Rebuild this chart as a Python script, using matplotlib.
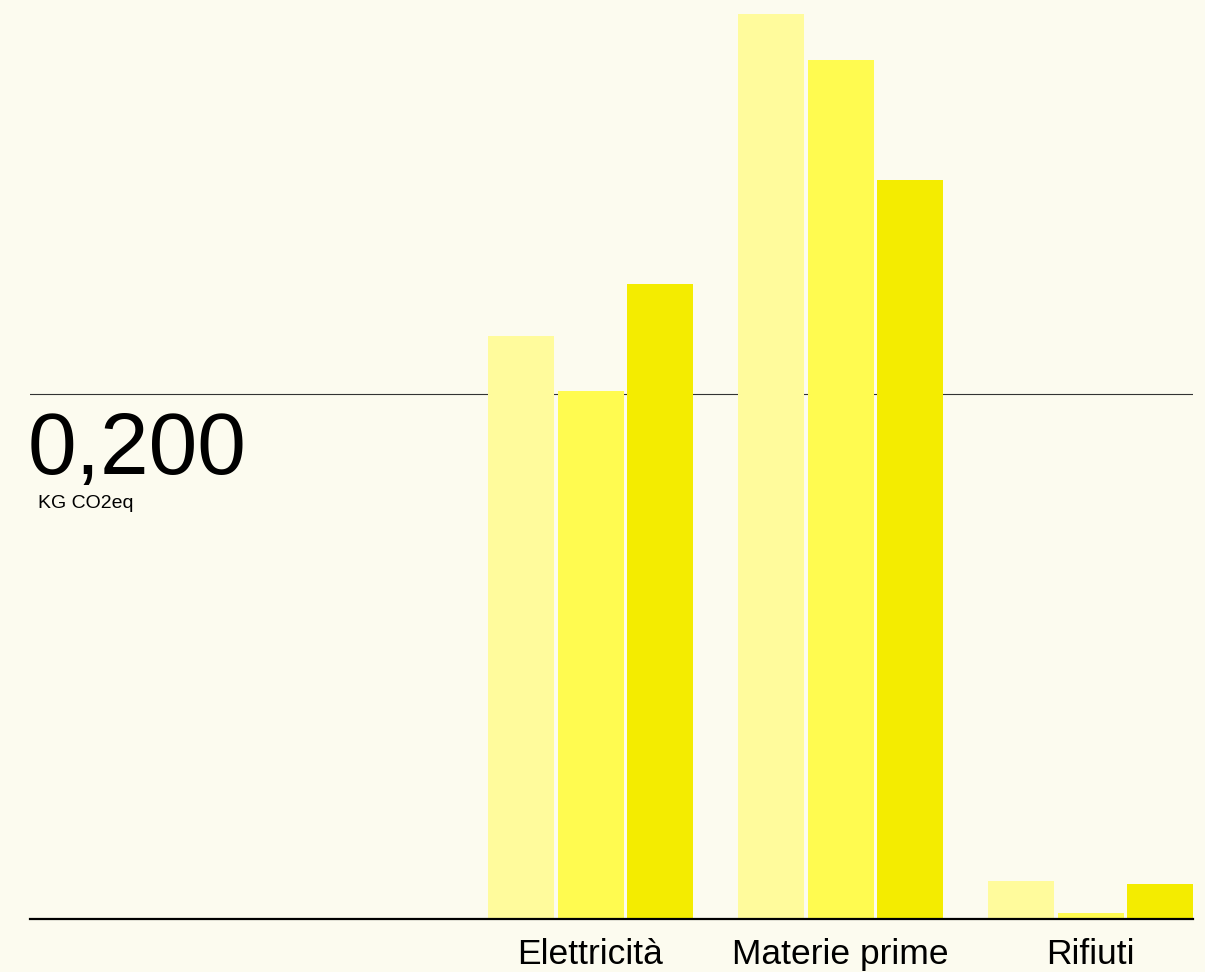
import numpy as np
import matplotlib
matplotlib.use("Agg")
import matplotlib.pyplot as plt

plt.rcParams['font.family'] = ['Liberation Sans', 'DejaVu Sans']

# data (kg CO2eq)
categories = ["Elettricità", "Materie prime", "Rifiuti"]
serie_a = [0.2223, 0.3449, 0.0143]
serie_b = [0.2011, 0.3274, 0.0021]
serie_c = [0.2419, 0.2816, 0.0132]

colors = ["#fffb9c", "#fffb50", "#f4ec00"]
bg = "#fcfbef"

fig = plt.figure(figsize=(12.05, 9.72), dpi=100, facecolor=bg)
ax = fig.add_axes([30 / 1205, (972 - 918.5) / 972, 1163 / 1205, 918.5 / 972])
ax.set_facecolor(bg)

x = np.arange(len(categories))
step = 0.278
width = 0.264
for i, (vals, c) in enumerate(zip([serie_a, serie_b, serie_c], colors)):
    ax.bar(x + (i - 1) * step, vals, width=width, color=c, zorder=2)

ax.set_xlim(-2.242, 2.41)
ax.set_ylim(0, 918.5 / 524.5 * 0.2)

# reference line at 0,200 and baseline
ax.axhline(0.2, color="#333333", lw=0.8, zorder=1)
ax.axhline(0, color="black", lw=1.6, zorder=3, clip_on=False)

ax.annotate("0,200", xy=(-2.242, 0.2), xytext=(-2, -80), textcoords="offset pixels",
            fontsize=63, va="baseline", ha="left", color="black")
ax.annotate("KG CO2eq", xy=(-2.242, 0.2), xytext=(8, -114), textcoords="offset pixels",
            fontsize=14, va="baseline", ha="left", color="black")

for s in ax.spines.values():
    s.set_visible(False)
ax.set_yticks([])
ax.set_xticks(x)
ax.set_xticklabels(categories, fontsize=25.5)
ax.tick_params(axis="x", length=0, pad=14)

fig.savefig("out.png", dpi=100, facecolor=bg)
